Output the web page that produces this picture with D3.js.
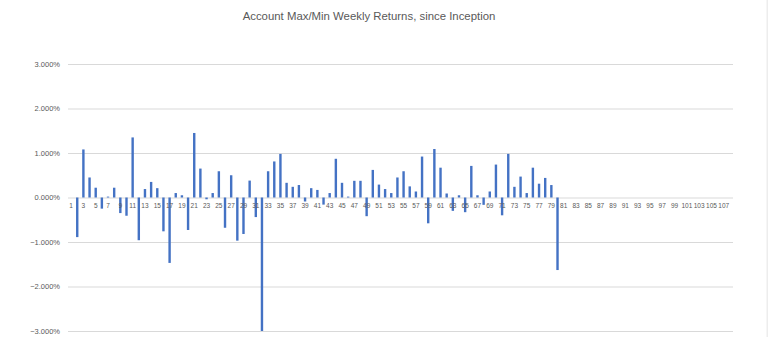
<!DOCTYPE html>
<html><head><meta charset="utf-8">
<script src="https://cdn.jsdelivr.net/npm/d3@7"></script>
<style>body{margin:0;background:#fff;} svg{display:block;}</style>
</head><body>
<svg id="c" width="768" height="337"></svg>
<script>
const title = "Account Max/Min Weekly Returns, since Inception";
const categories = d3.range(1, 109).map(String);
// weekly returns in percent, weeks 1..80 (later weeks empty)
const returns = [
  null, -0.89, 1.08, 0.45, 0.22, -0.25, 0.02, 0.22, -0.35, -0.41,
  1.35, -0.96, 0.19, 0.35, 0.21, -0.76, -1.47, 0.10, 0.05, -0.73,
  1.45, 0.65, -0.04, 0.10, 0.59, -0.68, 0.50, -0.97, -0.82, 0.38,
  -0.44, -3.00, 0.59, 0.81, 0.98, 0.33, 0.24, 0.28, -0.09, 0.21,
  0.17, -0.16, 0.10, 0.87, 0.33, 0.02, 0.375, 0.375, -0.42, 0.62,
  0.29, 0.19, 0.10, 0.45, 0.59, 0.25, 0.135, 0.92, -0.58, 1.09,
  0.67, 0.09, -0.30, 0.05, -0.33, 0.71, 0.05, -0.165, 0.135, 0.74,
  -0.40, 0.98, 0.24, 0.47, 0.10, 0.67, 0.31, 0.44, 0.28, -1.63
];
const yTicks = [-3, -2, -1, 0, 1, 2, 3];
const xTickLabels = categories.filter((d, i) => i % 2 === 0);

const svg = d3.select("#c");
const L = 68, R = 733, T = 64, B = 331;
const x = d3.scaleBand().domain(categories).range([L, R]).padding(0);
const y = d3.scaleLinear().domain([-3, 3]).range([B, T]);
const font = "'Liberation Sans', Arial, sans-serif";

// right border
svg.append("rect").attr("x", 766.5).attr("y", 0).attr("width", 1.5).attr("height", 337).attr("fill", "#ededed");

// title
const t = svg.append("text").attr("x", 369).attr("y", 20).attr("text-anchor", "middle")
  .attr("font-family", font).attr("font-size", 12.5).attr("fill", "#595959").text(title);
const tw = t.node().getComputedTextLength();
t.attr("font-size", 12.5 * 253 / tw);

// gridlines
svg.append("g").selectAll("line").data(yTicks).join("line")
  .attr("x1", L).attr("x2", R).attr("y1", d => y(d) + 0.5).attr("y2", d => y(d) + 0.5)
  .attr("stroke", "#d9d9d9").attr("stroke-width", 1);

// y axis labels
const yAxis = d3.axisLeft(y).tickValues(yTicks).tickSize(0).tickPadding(0)
  .tickFormat(d => d3.format(".3f")(d) + "%");
const ya = svg.append("g").attr("transform", `translate(${L - 8},0)`).call(yAxis);
ya.select(".domain").remove();
ya.selectAll("text").attr("font-family", font).attr("font-size", 7.5).attr("fill", "#595959");

// bars
const bw = 2.4;
svg.append("g").selectAll("rect").data(returns.map((v, i) => ({c: categories[i], v})).filter(d => d.v !== null))
  .join("rect")
  .attr("x", d => x(d.c) + x.bandwidth() / 2 - bw / 2)
  .attr("width", bw)
  .attr("y", d => y(Math.max(0, d.v)))
  .attr("height", d => Math.abs(y(d.v) - y(0)))
  .attr("fill", "#4472c4");

// category labels
const xAxis = d3.axisBottom(x).tickValues(xTickLabels).tickSize(0).tickPadding(6);
const xa = svg.append("g").attr("transform", `translate(0,${y(0)})`).call(xAxis);
xa.select(".domain").remove();
xa.selectAll("text").attr("font-family", font).attr("font-size", 6.5).attr("fill", "#595959");
</script>
</body></html>
